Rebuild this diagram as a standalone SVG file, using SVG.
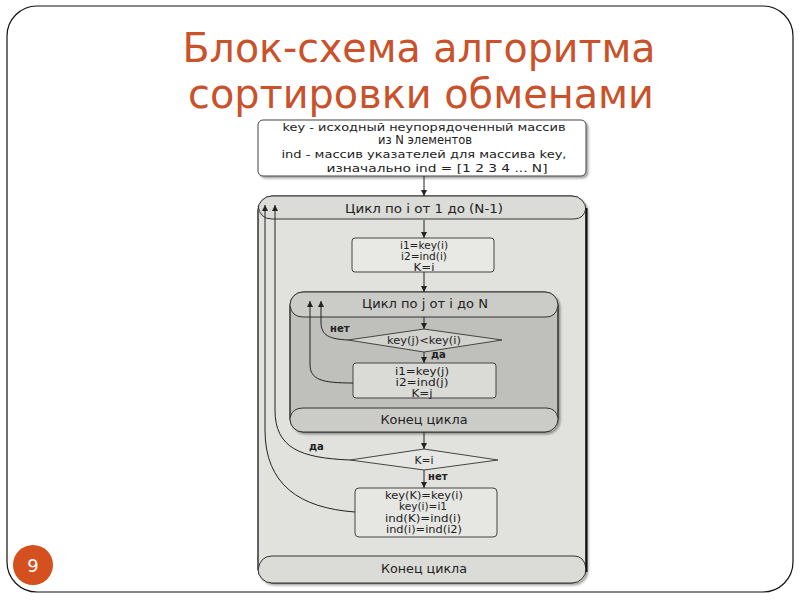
<svg xmlns="http://www.w3.org/2000/svg" width="800" height="600" viewBox="0 0 800 600">
<defs>
<marker id="ah" viewBox="0 0 10 10" refX="10" refY="5" markerWidth="6" markerHeight="6" orient="auto" markerUnits="userSpaceOnUse">
<path d="M0,0 L10,5 L0,10 z" fill="#222"/>
</marker>
<filter id="sh" x="-5%" y="-5%" width="115%" height="115%">
<feDropShadow dx="2" dy="2" stdDeviation="1.2" flood-color="#000" flood-opacity="0.35"/>
</filter>
</defs>
<style>
.t{font-family:"DejaVu Sans","Verdana",sans-serif;fill:#222;text-anchor:middle}
.s11{font-size:11px}
.s12{font-size:12.5px}
.s10{font-size:10px}
.b{font-weight:bold;font-size:10px;text-anchor:start}
.ln{fill:none;stroke:#222;stroke-width:1}
.box{stroke:#444;stroke-width:1}
.title{font-family:"DejaVu Sans",sans-serif;font-size:40px;fill:#C9522B;text-anchor:middle}
</style>
<rect width="800" height="600" fill="#fff"/>
<rect id="frame" x="7" y="6" width="786" height="586" rx="30" fill="#fff" stroke="#111" stroke-width="1.2"/>
<g id="title">
<text class="title" x="419" y="62" textLength="473" lengthAdjust="spacingAndGlyphs">Блок-схема алгоритма</text>
<text class="title" x="421" y="108" textLength="466" lengthAdjust="spacingAndGlyphs">сортировки обменами</text>
</g>
<g id="pagenum">
<circle cx="33" cy="565" r="20" fill="#D5501F"/>
<text x="33" y="572" font-family="DejaVu Sans,sans-serif" font-size="18" fill="#fff" text-anchor="middle">9</text>
</g>

<g id="input">
<rect class="box" x="258" y="120" width="328" height="56" rx="5" fill="#fff" filter="url(#sh)"/>
<text class="t s11" x="424" y="131" textLength="283" lengthAdjust="spacingAndGlyphs">key - исходный неупорядоченный массив</text>
<text class="t" x="425" y="144" font-size="11.5px">из N элементов</text>
<text class="t s11" x="424" y="158" textLength="285" lengthAdjust="spacingAndGlyphs">ind - массив указателей для массива key,</text>
<text class="t s11" x="437" y="172" textLength="221" lengthAdjust="spacingAndGlyphs">изначально ind = [1 2 3 4 ... N]</text>
</g>

<g id="outerLoop">
<rect x="258" y="196" width="328" height="387" rx="14" fill="#E1E1DD" stroke="#333" stroke-width="1" filter="url(#sh)"/>
<path d="M258,210 q0,-14 14,-14 L572,196 q14,0 14,14 q-2,9 -12,9 L272,219 q-12,0 -14,-9 z" fill="#DBDBD7"/>
<path d="M258,206 Q260,219 272,219 L574,219 Q584,219 586,208" fill="none" stroke="#333"/>
<path d="M258,570 Q260,556 272,556 L574,556 Q584,556 586,568 L586,569 q0,14 -14,14 L272,583 q-14,0 -14,-14 z" fill="#DBDBD7"/>
<path d="M258,570 Q260,556 272,556 L574,556 Q584,556 586,568" fill="none" stroke="#333"/>
<rect x="258" y="196" width="328" height="387" rx="14" fill="none" stroke="#333" stroke-width="1"/>
<line x1="586.5" y1="208" x2="586.5" y2="572" stroke="#111" stroke-width="2"/>
<text class="t s12" x="424" y="213" textLength="158" lengthAdjust="spacingAndGlyphs">Цикл по i от 1 до (N-1)</text>
<text class="t s12" x="424" y="573" textLength="86" lengthAdjust="spacingAndGlyphs">Конец цикла</text>
</g>

<g id="init">
<rect class="box" x="352" y="238" width="142" height="34" rx="3" fill="#E8E8E4"/>
<text class="t s10" x="424" y="249" textLength="48" lengthAdjust="spacingAndGlyphs">i1=key(i)</text>
<text class="t s10" x="424" y="260" textLength="46" lengthAdjust="spacingAndGlyphs">i2=ind(i)</text>
<text class="t s10" x="424" y="271" textLength="21" lengthAdjust="spacingAndGlyphs">K=i</text>
</g>

<g id="innerLoop">
<rect x="290" y="292" width="268" height="140" rx="13" fill="#BFBFBB" stroke="#333" filter="url(#sh)"/>
<path d="M290,305 q0,-13 13,-13 L545,292 q13,0 13,13 q-2,12 -13,12 L303,317 q-11,0 -13,-10 z" fill="#CBCBC7"/>
<path d="M290,306 Q292,317 303,317 L546,317 Q556,317 558,306" fill="none" stroke="#333"/>
<path d="M290,418 Q292,408 303,408 L546,408 Q556,408 558,418 L558,419 q0,13 -13,13 L303,432 q-13,0 -13,-13 z" fill="#CBCBC7"/>
<path d="M290,418 Q292,408 303,408 L546,408 Q556,408 558,418" fill="none" stroke="#333"/>
<rect x="290" y="292" width="268" height="140" rx="13" fill="none" stroke="#333"/>
<text class="t s12" x="425" y="308" textLength="126" lengthAdjust="spacingAndGlyphs">Цикл по j от i до N</text>
<text class="t s12" x="424" y="424" textLength="87" lengthAdjust="spacingAndGlyphs">Конец цикла</text>
</g>

<g id="cmp1">
<polygon class="box" points="424,329 502,340 424,352 348,340" fill="#D2D2CE"/>
<text class="t s10" x="424" y="344" textLength="74" lengthAdjust="spacingAndGlyphs">key(j)&lt;key(i)</text>
</g>

<g id="assign">
<rect class="box" x="353" y="363" width="143" height="35" rx="3" fill="#DADAD6"/>
<text class="t s10" x="422" y="375" textLength="54" lengthAdjust="spacingAndGlyphs">i1=key(j)</text>
<text class="t s10" x="422" y="386" textLength="53" lengthAdjust="spacingAndGlyphs">i2=ind(j)</text>
<text class="t s10" x="422" y="397" textLength="21" lengthAdjust="spacingAndGlyphs">K=j</text>
</g>

<g id="cmp2">
<polygon class="box" points="424,449 498,460 424,470 350,460" fill="#E6E6E2"/>
<text class="t s10" x="424" y="464" textLength="19" lengthAdjust="spacingAndGlyphs">K=i</text>
</g>

<g id="swap">
<rect class="box" x="355" y="488" width="142" height="49" rx="4" fill="#E6E6E2"/>
<text class="t s10" x="424" y="499" textLength="78" lengthAdjust="spacingAndGlyphs">key(K)=key(i)</text>
<text class="t s10" x="423" y="510" textLength="48" lengthAdjust="spacingAndGlyphs">key(i)=i1</text>
<text class="t s10" x="423" y="522" textLength="76" lengthAdjust="spacingAndGlyphs">ind(K)=ind(i)</text>
<text class="t s10" x="424" y="533" textLength="76" lengthAdjust="spacingAndGlyphs">ind(i)=ind(i2)</text>
</g>

<g id="connectors">
<line class="ln" x1="424" y1="176" x2="424" y2="196" marker-end="url(#ah)"/>
<line class="ln" x1="424" y1="220" x2="424" y2="238" marker-end="url(#ah)"/>
<line class="ln" x1="424" y1="272" x2="424" y2="292" marker-end="url(#ah)"/>
<line class="ln" x1="424" y1="317" x2="424" y2="329" marker-end="url(#ah)"/>
<line class="ln" x1="424" y1="352" x2="424" y2="363" marker-end="url(#ah)"/>
<line class="ln" x1="424" y1="432" x2="424" y2="449" marker-end="url(#ah)"/>
<line class="ln" x1="424" y1="470" x2="424" y2="488" marker-end="url(#ah)"/>
<path class="ln" d="M348,340 C330,339 321,336 321,322 L321,301" marker-end="url(#ah)"/>
<path class="ln" d="M353,383 C322,383 310,380 310,364 L310,301" marker-end="url(#ah)"/>
<path class="ln" d="M350,460 C300,458 275,448 275,410 L275,205" marker-end="url(#ah)"/>
<path class="ln" d="M355,512 C300,508 265,485 265,430 L265,205" marker-end="url(#ah)"/>
<text class="t b" x="330" y="332">нет</text>
<text class="t b" x="431" y="358">да</text>
<text class="t b" x="309" y="450">да</text>
<text class="t b" x="428" y="480">нет</text>
</g>
</svg>
